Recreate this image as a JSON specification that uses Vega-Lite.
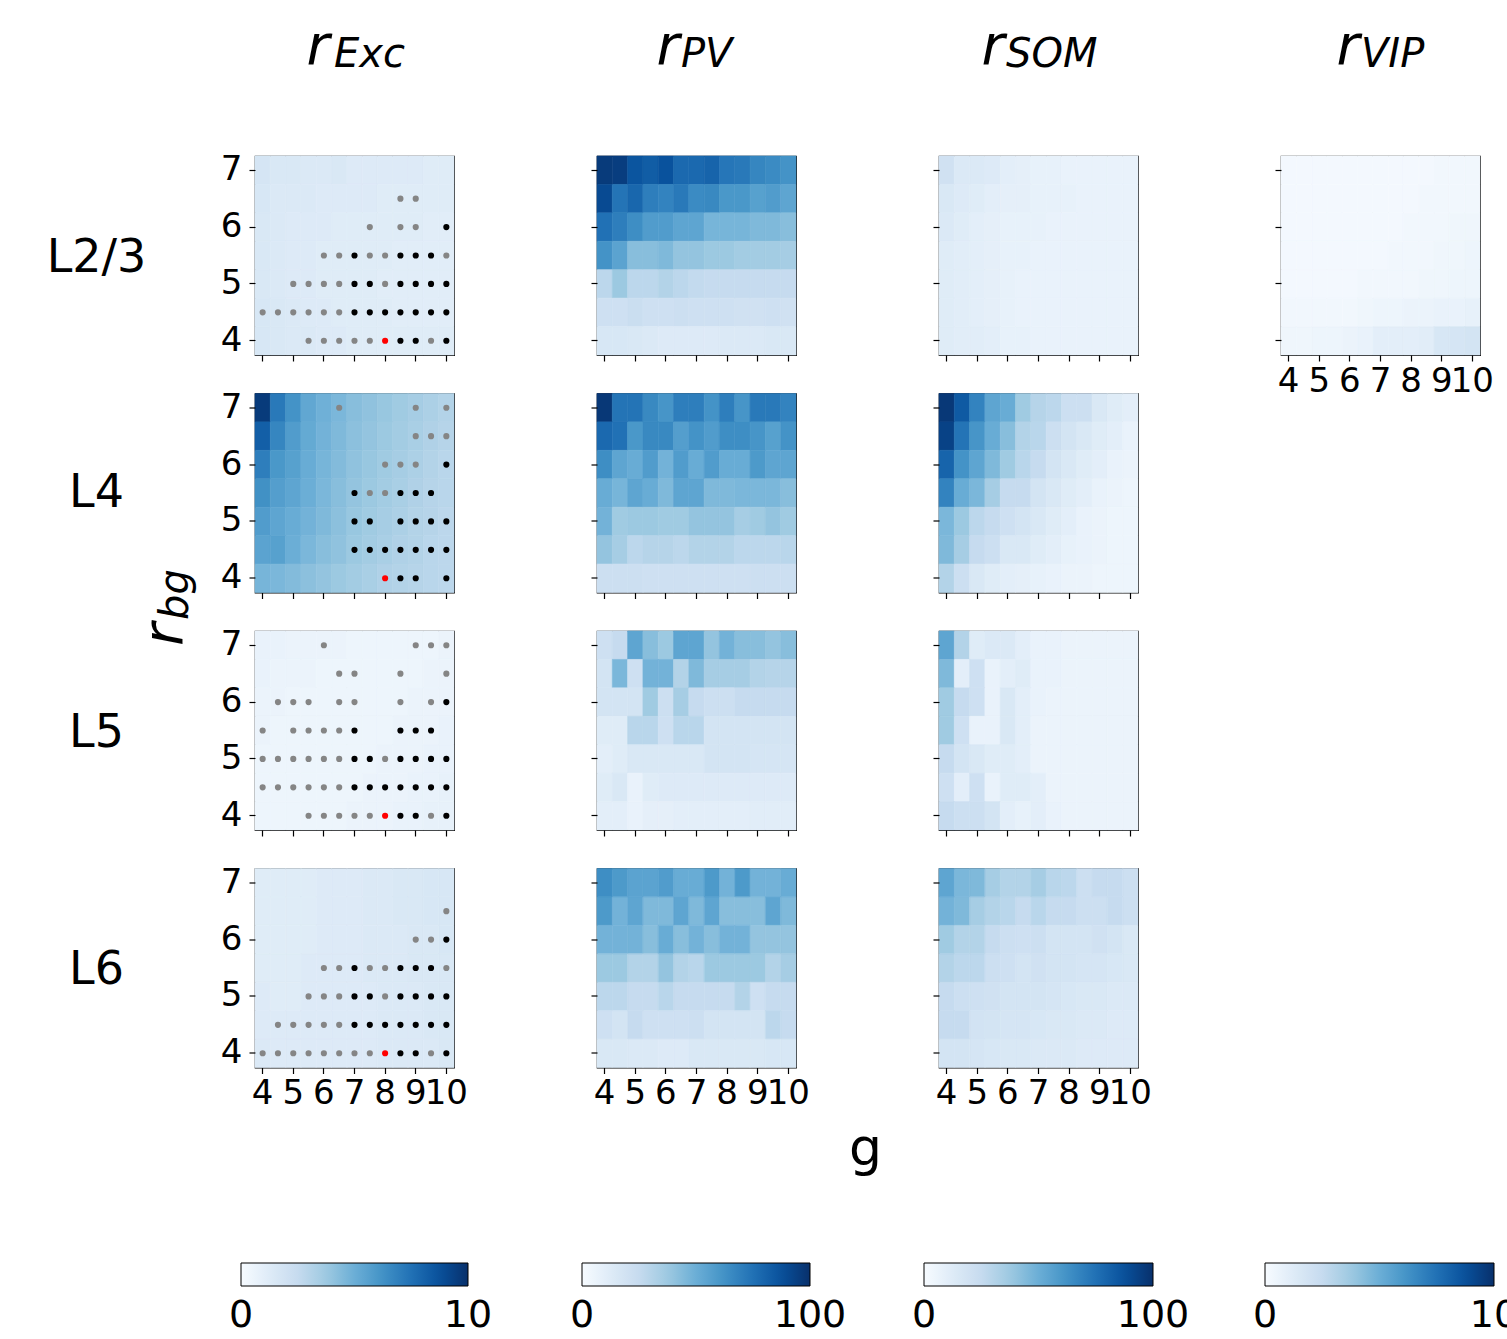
{
"$schema":"https://vega.github.io/schema/vega-lite/v6.json",
"background":"white",
"padding":{"left":45,"top":17,"right":0,"bottom":2},
"datasets":{
"exc_l23":[
{"g":4,"r":7,"v":1.7},{"g":4.5,"r":7,"v":1.5},{"g":5,"r":7,"v":1.5},{"g":5.5,"r":7,"v":1.4},{"g":6,"r":7,"v":1.4},{"g":6.5,"r":7,"v":1.5},{"g":7,"r":7,"v":1.3},{"g":7.5,"r":7,"v":1.3},{"g":8,"r":7,"v":1.3},{"g":8.5,"r":7,"v":1.3},{"g":9,"r":7,"v":1.3},{"g":9.5,"r":7,"v":1.2},{"g":10,"r":7,"v":1.2},
{"g":4,"r":6.5,"v":1.6},{"g":4.5,"r":6.5,"v":1.4},{"g":5,"r":6.5,"v":1.4},{"g":5.5,"r":6.5,"v":1.4},{"g":6,"r":6.5,"v":1.3},{"g":6.5,"r":6.5,"v":1.3},{"g":7,"r":6.5,"v":1.3},{"g":7.5,"r":6.5,"v":1.3},{"g":8,"r":6.5,"v":1.2},{"g":8.5,"r":6.5,"v":1.2},{"g":9,"r":6.5,"v":1.2},{"g":9.5,"r":6.5,"v":1.2},{"g":10,"r":6.5,"v":1.2},
{"g":4,"r":6,"v":1.5},{"g":4.5,"r":6,"v":1.4},{"g":5,"r":6,"v":1.3},{"g":5.5,"r":6,"v":1.3},{"g":6,"r":6,"v":1.3},{"g":6.5,"r":6,"v":1.2},{"g":7,"r":6,"v":1.2},{"g":7.5,"r":6,"v":1.2},{"g":8,"r":6,"v":1.2},{"g":8.5,"r":6,"v":1.2},{"g":9,"r":6,"v":1.2},{"g":9.5,"r":6,"v":1.1},{"g":10,"r":6,"v":1.1},
{"g":4,"r":5.5,"v":1.5},{"g":4.5,"r":5.5,"v":1.4},{"g":5,"r":5.5,"v":1.3},{"g":5.5,"r":5.5,"v":1.3},{"g":6,"r":5.5,"v":1.2},{"g":6.5,"r":5.5,"v":1.2},{"g":7,"r":5.5,"v":1.2},{"g":7.5,"r":5.5,"v":1.2},{"g":8,"r":5.5,"v":1.2},{"g":8.5,"r":5.5,"v":1.1},{"g":9,"r":5.5,"v":1.1},{"g":9.5,"r":5.5,"v":1.1},{"g":10,"r":5.5,"v":1.1},
{"g":4,"r":5,"v":1.5},{"g":4.5,"r":5,"v":1.4},{"g":5,"r":5,"v":1.3},{"g":5.5,"r":5,"v":1.3},{"g":6,"r":5,"v":1.2},{"g":6.5,"r":5,"v":1.2},{"g":7,"r":5,"v":1.2},{"g":7.5,"r":5,"v":1.2},{"g":8,"r":5,"v":1.1},{"g":8.5,"r":5,"v":1.1},{"g":9,"r":5,"v":1.1},{"g":9.5,"r":5,"v":1.1},{"g":10,"r":5,"v":1.1},
{"g":4,"r":4.5,"v":1.6},{"g":4.5,"r":4.5,"v":1.5},{"g":5,"r":4.5,"v":1.4},{"g":5.5,"r":4.5,"v":1.3},{"g":6,"r":4.5,"v":1.3},{"g":6.5,"r":4.5,"v":1.2},{"g":7,"r":4.5,"v":1.2},{"g":7.5,"r":4.5,"v":1.2},{"g":8,"r":4.5,"v":1.2},{"g":8.5,"r":4.5,"v":1.1},{"g":9,"r":4.5,"v":1.1},{"g":9.5,"r":4.5,"v":1.1},{"g":10,"r":4.5,"v":1.1},
{"g":4,"r":4,"v":1.6},{"g":4.5,"r":4,"v":1.5},{"g":5,"r":4,"v":1.4},{"g":5.5,"r":4,"v":1.4},{"g":6,"r":4,"v":1.3},{"g":6.5,"r":4,"v":1.3},{"g":7,"r":4,"v":1.2},{"g":7.5,"r":4,"v":1.2},{"g":8,"r":4,"v":1.2},{"g":8.5,"r":4,"v":1.2},{"g":9,"r":4,"v":1.2},{"g":9.5,"r":4,"v":1.2},{"g":10,"r":4,"v":1.2}
],
"exc_l4":[
{"g":4,"r":7,"v":9.6},{"g":4.5,"r":7,"v":7.2},{"g":5,"r":7,"v":6.2},{"g":5.5,"r":7,"v":5.3},{"g":6,"r":7,"v":4.9},{"g":6.5,"r":7,"v":4.6},{"g":7,"r":7,"v":4.3},{"g":7.5,"r":7,"v":4.1},{"g":8,"r":7,"v":3.9},{"g":8.5,"r":7,"v":3.7},{"g":9,"r":7,"v":3.5},{"g":9.5,"r":7,"v":3.3},{"g":10,"r":7,"v":3.1},
{"g":4,"r":6.5,"v":8.2},{"g":4.5,"r":6.5,"v":6.7},{"g":5,"r":6.5,"v":5.8},{"g":5.5,"r":6.5,"v":5.2},{"g":6,"r":6.5,"v":4.8},{"g":6.5,"r":6.5,"v":4.5},{"g":7,"r":6.5,"v":4.2},{"g":7.5,"r":6.5,"v":4.0},{"g":8,"r":6.5,"v":3.8},{"g":8.5,"r":6.5,"v":3.6},{"g":9,"r":6.5,"v":3.4},{"g":9.5,"r":6.5,"v":3.2},{"g":10,"r":6.5,"v":3.0},
{"g":4,"r":6,"v":7.0},{"g":4.5,"r":6,"v":6.0},{"g":5,"r":6,"v":5.6},{"g":5.5,"r":6,"v":5.1},{"g":6,"r":6,"v":4.7},{"g":6.5,"r":6,"v":4.4},{"g":7,"r":6,"v":4.1},{"g":7.5,"r":6,"v":3.9},{"g":8,"r":6,"v":3.7},{"g":8.5,"r":6,"v":3.5},{"g":9,"r":6,"v":3.3},{"g":9.5,"r":6,"v":3.1},{"g":10,"r":6,"v":2.9},
{"g":4,"r":5.5,"v":6.3},{"g":4.5,"r":5.5,"v":5.7},{"g":5,"r":5.5,"v":5.4},{"g":5.5,"r":5.5,"v":5.0},{"g":6,"r":5.5,"v":4.6},{"g":6.5,"r":5.5,"v":4.3},{"g":7,"r":5.5,"v":4.0},{"g":7.5,"r":5.5,"v":3.8},{"g":8,"r":5.5,"v":3.6},{"g":8.5,"r":5.5,"v":3.4},{"g":9,"r":5.5,"v":3.2},{"g":9.5,"r":5.5,"v":3.0},{"g":10,"r":5.5,"v":2.9},
{"g":4,"r":5,"v":5.8},{"g":4.5,"r":5,"v":5.4},{"g":5,"r":5,"v":5.1},{"g":5.5,"r":5,"v":4.8},{"g":6,"r":5,"v":4.5},{"g":6.5,"r":5,"v":4.2},{"g":7,"r":5,"v":3.9},{"g":7.5,"r":5,"v":3.7},{"g":8,"r":5,"v":3.5},{"g":8.5,"r":5,"v":3.3},{"g":9,"r":5,"v":3.1},{"g":9.5,"r":5,"v":3.0},{"g":10,"r":5,"v":2.8},
{"g":4,"r":4.5,"v":5.5},{"g":4.5,"r":4.5,"v":5.6},{"g":5,"r":4.5,"v":5.0},{"g":5.5,"r":4.5,"v":4.6},{"g":6,"r":4.5,"v":4.3},{"g":6.5,"r":4.5,"v":4.1},{"g":7,"r":4.5,"v":3.8},{"g":7.5,"r":4.5,"v":3.6},{"g":8,"r":4.5,"v":3.4},{"g":8.5,"r":4.5,"v":3.2},{"g":9,"r":4.5,"v":3.1},{"g":9.5,"r":4.5,"v":2.9},{"g":10,"r":4.5,"v":2.8},
{"g":4,"r":4,"v":4.7},{"g":4.5,"r":4,"v":4.6},{"g":5,"r":4,"v":4.4},{"g":5.5,"r":4,"v":4.2},{"g":6,"r":4,"v":4.0},{"g":6.5,"r":4,"v":3.8},{"g":7,"r":4,"v":3.6},{"g":7.5,"r":4,"v":3.4},{"g":8,"r":4,"v":3.2},{"g":8.5,"r":4,"v":3.1},{"g":9,"r":4,"v":3.0},{"g":9.5,"r":4,"v":2.9},{"g":10,"r":4,"v":2.8}
],
"exc_l5":[
{"g":4,"r":7,"v":0.7},{"g":4.5,"r":7,"v":0.7},{"g":5,"r":7,"v":0.6},{"g":5.5,"r":7,"v":0.6},{"g":6,"r":7,"v":0.6},{"g":6.5,"r":7,"v":0.6},{"g":7,"r":7,"v":0.5},{"g":7.5,"r":7,"v":0.5},{"g":8,"r":7,"v":0.5},{"g":8.5,"r":7,"v":0.5},{"g":9,"r":7,"v":0.5},{"g":9.5,"r":7,"v":0.5},{"g":10,"r":7,"v":0.6},
{"g":4,"r":6.5,"v":0.7},{"g":4.5,"r":6.5,"v":0.6},{"g":5,"r":6.5,"v":0.6},{"g":5.5,"r":6.5,"v":0.6},{"g":6,"r":6.5,"v":0.5},{"g":6.5,"r":6.5,"v":0.5},{"g":7,"r":6.5,"v":0.5},{"g":7.5,"r":6.5,"v":0.5},{"g":8,"r":6.5,"v":0.5},{"g":8.5,"r":6.5,"v":0.5},{"g":9,"r":6.5,"v":0.5},{"g":9.5,"r":6.5,"v":0.6},{"g":10,"r":6.5,"v":0.6},
{"g":4,"r":6,"v":0.6},{"g":4.5,"r":6,"v":0.6},{"g":5,"r":6,"v":0.5},{"g":5.5,"r":6,"v":0.5},{"g":6,"r":6,"v":0.5},{"g":6.5,"r":6,"v":0.5},{"g":7,"r":6,"v":0.5},{"g":7.5,"r":6,"v":0.5},{"g":8,"r":6,"v":0.5},{"g":8.5,"r":6,"v":0.5},{"g":9,"r":6,"v":0.6},{"g":9.5,"r":6,"v":0.6},{"g":10,"r":6,"v":0.6},
{"g":4,"r":5.5,"v":0.6},{"g":4.5,"r":5.5,"v":0.5},{"g":5,"r":5.5,"v":0.5},{"g":5.5,"r":5.5,"v":0.5},{"g":6,"r":5.5,"v":0.5},{"g":6.5,"r":5.5,"v":0.5},{"g":7,"r":5.5,"v":0.5},{"g":7.5,"r":5.5,"v":0.5},{"g":8,"r":5.5,"v":0.5},{"g":8.5,"r":5.5,"v":0.6},{"g":9,"r":5.5,"v":0.6},{"g":9.5,"r":5.5,"v":0.6},{"g":10,"r":5.5,"v":0.7},
{"g":4,"r":5,"v":0.5},{"g":4.5,"r":5,"v":0.5},{"g":5,"r":5,"v":0.5},{"g":5.5,"r":5,"v":0.5},{"g":6,"r":5,"v":0.5},{"g":6.5,"r":5,"v":0.5},{"g":7,"r":5,"v":0.5},{"g":7.5,"r":5,"v":0.5},{"g":8,"r":5,"v":0.6},{"g":8.5,"r":5,"v":0.6},{"g":9,"r":5,"v":0.6},{"g":9.5,"r":5,"v":0.7},{"g":10,"r":5,"v":0.7},
{"g":4,"r":4.5,"v":0.5},{"g":4.5,"r":4.5,"v":0.5},{"g":5,"r":4.5,"v":0.5},{"g":5.5,"r":4.5,"v":0.5},{"g":6,"r":4.5,"v":0.5},{"g":6.5,"r":4.5,"v":0.5},{"g":7,"r":4.5,"v":0.5},{"g":7.5,"r":4.5,"v":0.6},{"g":8,"r":4.5,"v":0.6},{"g":8.5,"r":4.5,"v":0.6},{"g":9,"r":4.5,"v":0.7},{"g":9.5,"r":4.5,"v":0.7},{"g":10,"r":4.5,"v":0.8},
{"g":4,"r":4,"v":0.5},{"g":4.5,"r":4,"v":0.5},{"g":5,"r":4,"v":0.5},{"g":5.5,"r":4,"v":0.5},{"g":6,"r":4,"v":0.5},{"g":6.5,"r":4,"v":0.5},{"g":7,"r":4,"v":0.6},{"g":7.5,"r":4,"v":0.6},{"g":8,"r":4,"v":0.6},{"g":8.5,"r":4,"v":0.7},{"g":9,"r":4,"v":0.7},{"g":9.5,"r":4,"v":0.8},{"g":10,"r":4,"v":0.8}
],
"exc_l6":[
{"g":4,"r":7,"v":1.2},{"g":4.5,"r":7,"v":1.2},{"g":5,"r":7,"v":1.2},{"g":5.5,"r":7,"v":1.2},{"g":6,"r":7,"v":1.3},{"g":6.5,"r":7,"v":1.3},{"g":7,"r":7,"v":1.3},{"g":7.5,"r":7,"v":1.4},{"g":8,"r":7,"v":1.4},{"g":8.5,"r":7,"v":1.5},{"g":9,"r":7,"v":1.5},{"g":9.5,"r":7,"v":1.6},{"g":10,"r":7,"v":1.6},
{"g":4,"r":6.5,"v":1.2},{"g":4.5,"r":6.5,"v":1.2},{"g":5,"r":6.5,"v":1.2},{"g":5.5,"r":6.5,"v":1.2},{"g":6,"r":6.5,"v":1.3},{"g":6.5,"r":6.5,"v":1.3},{"g":7,"r":6.5,"v":1.3},{"g":7.5,"r":6.5,"v":1.4},{"g":8,"r":6.5,"v":1.4},{"g":8.5,"r":6.5,"v":1.5},{"g":9,"r":6.5,"v":1.5},{"g":9.5,"r":6.5,"v":1.6},{"g":10,"r":6.5,"v":1.6},
{"g":4,"r":6,"v":1.2},{"g":4.5,"r":6,"v":1.2},{"g":5,"r":6,"v":1.2},{"g":5.5,"r":6,"v":1.2},{"g":6,"r":6,"v":1.3},{"g":6.5,"r":6,"v":1.3},{"g":7,"r":6,"v":1.3},{"g":7.5,"r":6,"v":1.4},{"g":8,"r":6,"v":1.4},{"g":8.5,"r":6,"v":1.4},{"g":9,"r":6,"v":1.5},{"g":9.5,"r":6,"v":1.5},{"g":10,"r":6,"v":1.6},
{"g":4,"r":5.5,"v":1.2},{"g":4.5,"r":5.5,"v":1.2},{"g":5,"r":5.5,"v":1.2},{"g":5.5,"r":5.5,"v":1.3},{"g":6,"r":5.5,"v":1.3},{"g":6.5,"r":5.5,"v":1.3},{"g":7,"r":5.5,"v":1.3},{"g":7.5,"r":5.5,"v":1.4},{"g":8,"r":5.5,"v":1.4},{"g":8.5,"r":5.5,"v":1.4},{"g":9,"r":5.5,"v":1.5},{"g":9.5,"r":5.5,"v":1.5},{"g":10,"r":5.5,"v":1.5},
{"g":4,"r":5,"v":1.3},{"g":4.5,"r":5,"v":1.2},{"g":5,"r":5,"v":1.2},{"g":5.5,"r":5,"v":1.3},{"g":6,"r":5,"v":1.3},{"g":6.5,"r":5,"v":1.3},{"g":7,"r":5,"v":1.3},{"g":7.5,"r":5,"v":1.3},{"g":8,"r":5,"v":1.4},{"g":8.5,"r":5,"v":1.4},{"g":9,"r":5,"v":1.4},{"g":9.5,"r":5,"v":1.5},{"g":10,"r":5,"v":1.5},
{"g":4,"r":4.5,"v":1.3},{"g":4.5,"r":4.5,"v":1.3},{"g":5,"r":4.5,"v":1.3},{"g":5.5,"r":4.5,"v":1.3},{"g":6,"r":4.5,"v":1.3},{"g":6.5,"r":4.5,"v":1.3},{"g":7,"r":4.5,"v":1.3},{"g":7.5,"r":4.5,"v":1.3},{"g":8,"r":4.5,"v":1.4},{"g":8.5,"r":4.5,"v":1.4},{"g":9,"r":4.5,"v":1.4},{"g":9.5,"r":4.5,"v":1.5},{"g":10,"r":4.5,"v":1.5},
{"g":4,"r":4,"v":1.4},{"g":4.5,"r":4,"v":1.3},{"g":5,"r":4,"v":1.3},{"g":5.5,"r":4,"v":1.3},{"g":6,"r":4,"v":1.3},{"g":6.5,"r":4,"v":1.3},{"g":7,"r":4,"v":1.3},{"g":7.5,"r":4,"v":1.3},{"g":8,"r":4,"v":1.4},{"g":8.5,"r":4,"v":1.4},{"g":9,"r":4,"v":1.4},{"g":9.5,"r":4,"v":1.4},{"g":10,"r":4,"v":1.5}
],
"pv_l23":[
{"g":4,"r":7,"v":96},{"g":4.5,"r":7,"v":95},{"g":5,"r":7,"v":86},{"g":5.5,"r":7,"v":83},{"g":6,"r":7,"v":87},{"g":6.5,"r":7,"v":78},{"g":7,"r":7,"v":78},{"g":7.5,"r":7,"v":80},{"g":8,"r":7,"v":73},{"g":8.5,"r":7,"v":72},{"g":9,"r":7,"v":67},{"g":9.5,"r":7,"v":65},{"g":10,"r":7,"v":62},
{"g":4,"r":6.5,"v":90},{"g":4.5,"r":6.5,"v":74},{"g":5,"r":6.5,"v":79},{"g":5.5,"r":6.5,"v":70},{"g":6,"r":6.5,"v":68},{"g":6.5,"r":6.5,"v":72},{"g":7,"r":6.5,"v":65},{"g":7.5,"r":6.5,"v":66},{"g":8,"r":6.5,"v":60},{"g":8.5,"r":6.5,"v":60},{"g":9,"r":6.5,"v":56},{"g":9.5,"r":6.5,"v":58},{"g":10,"r":6.5,"v":54},
{"g":4,"r":6,"v":75},{"g":4.5,"r":6,"v":70},{"g":5,"r":6,"v":64},{"g":5.5,"r":6,"v":58},{"g":6,"r":6,"v":58},{"g":6.5,"r":6,"v":54},{"g":7,"r":6,"v":54},{"g":7.5,"r":6,"v":47},{"g":8,"r":6,"v":47},{"g":8.5,"r":6,"v":47},{"g":9,"r":6,"v":45},{"g":9.5,"r":6,"v":45},{"g":10,"r":6,"v":43},
{"g":4,"r":5.5,"v":62},{"g":4.5,"r":5.5,"v":55},{"g":5,"r":5.5,"v":43},{"g":5.5,"r":5.5,"v":43},{"g":6,"r":5.5,"v":45},{"g":6.5,"r":5.5,"v":40},{"g":7,"r":5.5,"v":40},{"g":7.5,"r":5.5,"v":38},{"g":8,"r":5.5,"v":38},{"g":8.5,"r":5.5,"v":36},{"g":9,"r":5.5,"v":36},{"g":9.5,"r":5.5,"v":36},{"g":10,"r":5.5,"v":35},
{"g":4,"r":5,"v":28},{"g":4.5,"r":5,"v":38},{"g":5,"r":5,"v":28},{"g":5.5,"r":5,"v":28},{"g":6,"r":5,"v":31},{"g":6.5,"r":5,"v":28},{"g":7,"r":5,"v":26},{"g":7.5,"r":5,"v":25},{"g":8,"r":5,"v":25},{"g":8.5,"r":5,"v":25},{"g":9,"r":5,"v":25},{"g":9.5,"r":5,"v":25},{"g":10,"r":5,"v":25},
{"g":4,"r":4.5,"v":21},{"g":4.5,"r":4.5,"v":21},{"g":5,"r":4.5,"v":23},{"g":5.5,"r":4.5,"v":21},{"g":6,"r":4.5,"v":21},{"g":6.5,"r":4.5,"v":22},{"g":7,"r":4.5,"v":21},{"g":7.5,"r":4.5,"v":21},{"g":8,"r":4.5,"v":21},{"g":8.5,"r":4.5,"v":20},{"g":9,"r":4.5,"v":20},{"g":9.5,"r":4.5,"v":21},{"g":10,"r":4.5,"v":20},
{"g":4,"r":4,"v":16},{"g":4.5,"r":4,"v":16},{"g":5,"r":4,"v":15},{"g":5.5,"r":4,"v":14},{"g":6,"r":4,"v":13},{"g":6.5,"r":4,"v":13},{"g":7,"r":4,"v":13},{"g":7.5,"r":4,"v":13},{"g":8,"r":4,"v":14},{"g":8.5,"r":4,"v":14},{"g":9,"r":4,"v":14},{"g":9.5,"r":4,"v":15},{"g":10,"r":4,"v":15}
],
"pv_l4":[
{"g":4,"r":7,"v":97},{"g":4.5,"r":7,"v":74},{"g":5,"r":7,"v":74},{"g":5.5,"r":7,"v":66},{"g":6,"r":7,"v":61},{"g":6.5,"r":7,"v":70},{"g":7,"r":7,"v":70},{"g":7.5,"r":7,"v":62},{"g":8,"r":7,"v":70},{"g":8.5,"r":7,"v":61},{"g":9,"r":7,"v":72},{"g":9.5,"r":7,"v":72},{"g":10,"r":7,"v":68},
{"g":4,"r":6.5,"v":78},{"g":4.5,"r":6.5,"v":75},{"g":5,"r":6.5,"v":60},{"g":5.5,"r":6.5,"v":66},{"g":6,"r":6.5,"v":66},{"g":6.5,"r":6.5,"v":57},{"g":7,"r":6.5,"v":62},{"g":7.5,"r":6.5,"v":58},{"g":8,"r":6.5,"v":64},{"g":8.5,"r":6.5,"v":64},{"g":9,"r":6.5,"v":61},{"g":9.5,"r":6.5,"v":56},{"g":10,"r":6.5,"v":62},
{"g":4,"r":6,"v":64},{"g":4.5,"r":6,"v":54},{"g":5,"r":6,"v":51},{"g":5.5,"r":6,"v":58},{"g":6,"r":6,"v":48},{"g":6.5,"r":6,"v":58},{"g":7,"r":6,"v":51},{"g":7.5,"r":6,"v":58},{"g":8,"r":6,"v":51},{"g":8.5,"r":6,"v":51},{"g":9,"r":6,"v":59},{"g":9.5,"r":6,"v":54},{"g":10,"r":6,"v":54},
{"g":4,"r":5.5,"v":51},{"g":4.5,"r":5.5,"v":47},{"g":5,"r":5.5,"v":54},{"g":5.5,"r":5.5,"v":51},{"g":6,"r":5.5,"v":45},{"g":6.5,"r":5.5,"v":54},{"g":7,"r":5.5,"v":54},{"g":7.5,"r":5.5,"v":45},{"g":8,"r":5.5,"v":45},{"g":8.5,"r":5.5,"v":46},{"g":9,"r":5.5,"v":46},{"g":9.5,"r":5.5,"v":46},{"g":10,"r":5.5,"v":43},
{"g":4,"r":5,"v":48},{"g":4.5,"r":5,"v":37},{"g":5,"r":5,"v":38},{"g":5.5,"r":5,"v":38},{"g":6,"r":5,"v":37},{"g":6.5,"r":5,"v":37},{"g":7,"r":5,"v":40},{"g":7.5,"r":5,"v":40},{"g":8,"r":5,"v":40},{"g":8.5,"r":5,"v":35},{"g":9,"r":5,"v":37},{"g":9.5,"r":5,"v":40},{"g":10,"r":5,"v":37},
{"g":4,"r":4.5,"v":40},{"g":4.5,"r":4.5,"v":35},{"g":5,"r":4.5,"v":28},{"g":5.5,"r":4.5,"v":30},{"g":6,"r":4.5,"v":30},{"g":6.5,"r":4.5,"v":28},{"g":7,"r":4.5,"v":31},{"g":7.5,"r":4.5,"v":31},{"g":8,"r":4.5,"v":31},{"g":8.5,"r":4.5,"v":28},{"g":9,"r":4.5,"v":28},{"g":9.5,"r":4.5,"v":28},{"g":10,"r":4.5,"v":29},
{"g":4,"r":4,"v":22},{"g":4.5,"r":4,"v":22},{"g":5,"r":4,"v":22},{"g":5.5,"r":4,"v":21},{"g":6,"r":4,"v":21},{"g":6.5,"r":4,"v":21},{"g":7,"r":4,"v":21},{"g":7.5,"r":4,"v":21},{"g":8,"r":4,"v":21},{"g":8.5,"r":4,"v":21},{"g":9,"r":4,"v":22},{"g":9.5,"r":4,"v":22},{"g":10,"r":4,"v":22}
],
"pv_l5":[
{"g":4,"r":7,"v":21},{"g":4.5,"r":7,"v":25},{"g":5,"r":7,"v":54},{"g":5.5,"r":7,"v":43},{"g":6,"r":7,"v":38},{"g":6.5,"r":7,"v":54},{"g":7,"r":7,"v":54},{"g":7.5,"r":7,"v":40},{"g":8,"r":7,"v":48},{"g":8.5,"r":7,"v":43},{"g":9,"r":7,"v":43},{"g":9.5,"r":7,"v":40},{"g":10,"r":7,"v":43},
{"g":4,"r":6.5,"v":18},{"g":4.5,"r":6.5,"v":46},{"g":5,"r":6.5,"v":21},{"g":5.5,"r":6.5,"v":48},{"g":6,"r":6.5,"v":48},{"g":6.5,"r":6.5,"v":31},{"g":7,"r":6.5,"v":45},{"g":7.5,"r":6.5,"v":35},{"g":8,"r":6.5,"v":35},{"g":8.5,"r":6.5,"v":35},{"g":9,"r":6.5,"v":31},{"g":9.5,"r":6.5,"v":30},{"g":10,"r":6.5,"v":30},
{"g":4,"r":6,"v":18},{"g":4.5,"r":6,"v":18},{"g":5,"r":6,"v":18},{"g":5.5,"r":6,"v":37},{"g":6,"r":6,"v":22},{"g":6.5,"r":6,"v":35},{"g":7,"r":6,"v":25},{"g":7.5,"r":6,"v":22},{"g":8,"r":6,"v":22},{"g":8.5,"r":6,"v":25},{"g":9,"r":6,"v":25},{"g":9.5,"r":6,"v":25},{"g":10,"r":6,"v":25},
{"g":4,"r":5.5,"v":12},{"g":4.5,"r":5.5,"v":12},{"g":5,"r":5.5,"v":29},{"g":5.5,"r":5.5,"v":29},{"g":6,"r":5.5,"v":21},{"g":6.5,"r":5.5,"v":29},{"g":7,"r":5.5,"v":29},{"g":7.5,"r":5.5,"v":18},{"g":8,"r":5.5,"v":18},{"g":8.5,"r":5.5,"v":18},{"g":9,"r":5.5,"v":18},{"g":9.5,"r":5.5,"v":18},{"g":10,"r":5.5,"v":18},
{"g":4,"r":5,"v":10},{"g":4.5,"r":5,"v":12},{"g":5,"r":5,"v":15},{"g":5.5,"r":5,"v":15},{"g":6,"r":5,"v":15},{"g":6.5,"r":5,"v":15},{"g":7,"r":5,"v":15},{"g":7.5,"r":5,"v":18},{"g":8,"r":5,"v":18},{"g":8.5,"r":5,"v":18},{"g":9,"r":5,"v":17},{"g":9.5,"r":5,"v":17},{"g":10,"r":5,"v":17},
{"g":4,"r":4.5,"v":12},{"g":4.5,"r":4.5,"v":15},{"g":5,"r":4.5,"v":7},{"g":5.5,"r":4.5,"v":12},{"g":6,"r":4.5,"v":13},{"g":6.5,"r":4.5,"v":13},{"g":7,"r":4.5,"v":13},{"g":7.5,"r":4.5,"v":13},{"g":8,"r":4.5,"v":13},{"g":8.5,"r":4.5,"v":13},{"g":9,"r":4.5,"v":13},{"g":9.5,"r":4.5,"v":13},{"g":10,"r":4.5,"v":13},
{"g":4,"r":4,"v":10},{"g":4.5,"r":4,"v":10},{"g":5,"r":4,"v":7},{"g":5.5,"r":4,"v":9},{"g":6,"r":4,"v":9},{"g":6.5,"r":4,"v":10},{"g":7,"r":4,"v":10},{"g":7.5,"r":4,"v":10},{"g":8,"r":4,"v":10},{"g":8.5,"r":4,"v":10},{"g":9,"r":4,"v":11},{"g":9.5,"r":4,"v":11},{"g":10,"r":4,"v":11}
],
"pv_l6":[
{"g":4,"r":7,"v":64},{"g":4.5,"r":7,"v":59},{"g":5,"r":7,"v":55},{"g":5.5,"r":7,"v":55},{"g":6,"r":7,"v":58},{"g":6.5,"r":7,"v":51},{"g":7,"r":7,"v":51},{"g":7.5,"r":7,"v":59},{"g":8,"r":7,"v":48},{"g":8.5,"r":7,"v":59},{"g":9,"r":7,"v":48},{"g":9.5,"r":7,"v":48},{"g":10,"r":7,"v":51},
{"g":4,"r":6.5,"v":59},{"g":4.5,"r":6.5,"v":48},{"g":5,"r":6.5,"v":54},{"g":5.5,"r":6.5,"v":45},{"g":6,"r":6.5,"v":45},{"g":6.5,"r":6.5,"v":54},{"g":7,"r":6.5,"v":45},{"g":7.5,"r":6.5,"v":54},{"g":8,"r":6.5,"v":43},{"g":8.5,"r":6.5,"v":43},{"g":9,"r":6.5,"v":43},{"g":9.5,"r":6.5,"v":54},{"g":10,"r":6.5,"v":45},
{"g":4,"r":6,"v":48},{"g":4.5,"r":6,"v":48},{"g":5,"r":6,"v":48},{"g":5.5,"r":6,"v":43},{"g":6,"r":6,"v":51},{"g":6.5,"r":6,"v":43},{"g":7,"r":6,"v":48},{"g":7.5,"r":6,"v":43},{"g":8,"r":6,"v":48},{"g":8.5,"r":6,"v":48},{"g":9,"r":6,"v":40},{"g":9.5,"r":6,"v":40},{"g":10,"r":6,"v":40},
{"g":4,"r":5.5,"v":38},{"g":4.5,"r":5.5,"v":38},{"g":5,"r":5.5,"v":31},{"g":5.5,"r":5.5,"v":31},{"g":6,"r":5.5,"v":40},{"g":6.5,"r":5.5,"v":31},{"g":7,"r":5.5,"v":29},{"g":7.5,"r":5.5,"v":38},{"g":8,"r":5.5,"v":38},{"g":8.5,"r":5.5,"v":38},{"g":9,"r":5.5,"v":38},{"g":9.5,"r":5.5,"v":31},{"g":10,"r":5.5,"v":35},
{"g":4,"r":5,"v":28},{"g":4.5,"r":5,"v":28},{"g":5,"r":5,"v":25},{"g":5.5,"r":5,"v":25},{"g":6,"r":5,"v":29},{"g":6.5,"r":5,"v":25},{"g":7,"r":5,"v":25},{"g":7.5,"r":5,"v":25},{"g":8,"r":5,"v":25},{"g":8.5,"r":5,"v":31},{"g":9,"r":5,"v":21},{"g":9.5,"r":5,"v":25},{"g":10,"r":5,"v":25},
{"g":4,"r":4.5,"v":21},{"g":4.5,"r":4.5,"v":18},{"g":5,"r":4.5,"v":25},{"g":5.5,"r":4.5,"v":21},{"g":6,"r":4.5,"v":21},{"g":6.5,"r":4.5,"v":21},{"g":7,"r":4.5,"v":22},{"g":7.5,"r":4.5,"v":18},{"g":8,"r":4.5,"v":18},{"g":8.5,"r":4.5,"v":18},{"g":9,"r":4.5,"v":18},{"g":9.5,"r":4.5,"v":28},{"g":10,"r":4.5,"v":25},
{"g":4,"r":4,"v":15},{"g":4.5,"r":4,"v":15},{"g":5,"r":4,"v":14},{"g":5.5,"r":4,"v":14},{"g":6,"r":4,"v":13},{"g":6.5,"r":4,"v":13},{"g":7,"r":4,"v":15},{"g":7.5,"r":4,"v":15},{"g":8,"r":4,"v":15},{"g":8.5,"r":4,"v":15},{"g":9,"r":4,"v":15},{"g":9.5,"r":4,"v":16},{"g":10,"r":4,"v":16}
],
"som_l23":[
{"g":4,"r":7,"v":20},{"g":4.5,"r":7,"v":14},{"g":5,"r":7,"v":14},{"g":5.5,"r":7,"v":13},{"g":6,"r":7,"v":10},{"g":6.5,"r":7,"v":9},{"g":7,"r":7,"v":8},{"g":7.5,"r":7,"v":8},{"g":8,"r":7,"v":7},{"g":8.5,"r":7,"v":7},{"g":9,"r":7,"v":7},{"g":9.5,"r":7,"v":7},{"g":10,"r":7,"v":7},
{"g":4,"r":6.5,"v":15},{"g":4.5,"r":6.5,"v":13},{"g":5,"r":6.5,"v":12},{"g":5.5,"r":6.5,"v":10},{"g":6,"r":6.5,"v":9},{"g":6.5,"r":6.5,"v":9},{"g":7,"r":6.5,"v":8},{"g":7.5,"r":6.5,"v":8},{"g":8,"r":6.5,"v":8},{"g":8.5,"r":6.5,"v":7},{"g":9,"r":6.5,"v":7},{"g":9.5,"r":6.5,"v":7},{"g":10,"r":6.5,"v":7},
{"g":4,"r":6,"v":14},{"g":4.5,"r":6,"v":12},{"g":5,"r":6,"v":10},{"g":5.5,"r":6,"v":9},{"g":6,"r":6,"v":8},{"g":6.5,"r":6,"v":8},{"g":7,"r":6,"v":8},{"g":7.5,"r":6,"v":7},{"g":8,"r":6,"v":7},{"g":8.5,"r":6,"v":7},{"g":9,"r":6,"v":7},{"g":9.5,"r":6,"v":7},{"g":10,"r":6,"v":7},
{"g":4,"r":5.5,"v":12},{"g":4.5,"r":5.5,"v":11},{"g":5,"r":5.5,"v":10},{"g":5.5,"r":5.5,"v":9},{"g":6,"r":5.5,"v":8},{"g":6.5,"r":5.5,"v":8},{"g":7,"r":5.5,"v":7},{"g":7.5,"r":5.5,"v":7},{"g":8,"r":5.5,"v":7},{"g":8.5,"r":5.5,"v":7},{"g":9,"r":5.5,"v":7},{"g":9.5,"r":5.5,"v":7},{"g":10,"r":5.5,"v":7},
{"g":4,"r":5,"v":12},{"g":4.5,"r":5,"v":11},{"g":5,"r":5,"v":10},{"g":5.5,"r":5,"v":9},{"g":6,"r":5,"v":8},{"g":6.5,"r":5,"v":7},{"g":7,"r":5,"v":7},{"g":7.5,"r":5,"v":7},{"g":8,"r":5,"v":7},{"g":8.5,"r":5,"v":7},{"g":9,"r":5,"v":7},{"g":9.5,"r":5,"v":7},{"g":10,"r":5,"v":7},
{"g":4,"r":4.5,"v":12},{"g":4.5,"r":4.5,"v":11},{"g":5,"r":4.5,"v":10},{"g":5.5,"r":4.5,"v":9},{"g":6,"r":4.5,"v":8},{"g":6.5,"r":4.5,"v":7},{"g":7,"r":4.5,"v":7},{"g":7.5,"r":4.5,"v":7},{"g":8,"r":4.5,"v":7},{"g":8.5,"r":4.5,"v":7},{"g":9,"r":4.5,"v":7},{"g":9.5,"r":4.5,"v":7},{"g":10,"r":4.5,"v":7},
{"g":4,"r":4,"v":12},{"g":4.5,"r":4,"v":11},{"g":5,"r":4,"v":11},{"g":5.5,"r":4,"v":10},{"g":6,"r":4,"v":8},{"g":6.5,"r":4,"v":8},{"g":7,"r":4,"v":7},{"g":7.5,"r":4,"v":7},{"g":8,"r":4,"v":7},{"g":8.5,"r":4,"v":7},{"g":9,"r":4,"v":7},{"g":9.5,"r":4,"v":7},{"g":10,"r":4,"v":7}
],
"som_l4":[
{"g":4,"r":7,"v":97},{"g":4.5,"r":7,"v":84},{"g":5,"r":7,"v":68},{"g":5.5,"r":7,"v":54},{"g":6,"r":7,"v":51},{"g":6.5,"r":7,"v":37},{"g":7,"r":7,"v":30},{"g":7.5,"r":7,"v":28},{"g":8,"r":7,"v":22},{"g":8.5,"r":7,"v":22},{"g":9,"r":7,"v":15},{"g":9.5,"r":7,"v":12},{"g":10,"r":7,"v":10},
{"g":4,"r":6.5,"v":93},{"g":4.5,"r":6.5,"v":74},{"g":5,"r":6.5,"v":61},{"g":5.5,"r":6.5,"v":51},{"g":6,"r":6.5,"v":43},{"g":6.5,"r":6.5,"v":31},{"g":7,"r":6.5,"v":29},{"g":7.5,"r":6.5,"v":22},{"g":8,"r":6.5,"v":18},{"g":8.5,"r":6.5,"v":15},{"g":9,"r":6.5,"v":12},{"g":9.5,"r":6.5,"v":10},{"g":10,"r":6.5,"v":7},
{"g":4,"r":6,"v":80},{"g":4.5,"r":6,"v":62},{"g":5,"r":6,"v":54},{"g":5.5,"r":6,"v":45},{"g":6,"r":6,"v":37},{"g":6.5,"r":6,"v":29},{"g":7,"r":6,"v":25},{"g":7.5,"r":6,"v":18},{"g":8,"r":6,"v":15},{"g":8.5,"r":6,"v":12},{"g":9,"r":6,"v":10},{"g":9.5,"r":6,"v":7},{"g":10,"r":6,"v":6},
{"g":4,"r":5.5,"v":68},{"g":4.5,"r":5.5,"v":51},{"g":5,"r":5.5,"v":46},{"g":5.5,"r":5.5,"v":35},{"g":6,"r":5.5,"v":25},{"g":6.5,"r":5.5,"v":25},{"g":7,"r":5.5,"v":18},{"g":7.5,"r":5.5,"v":15},{"g":8,"r":5.5,"v":12},{"g":8.5,"r":5.5,"v":10},{"g":9,"r":5.5,"v":7},{"g":9.5,"r":5.5,"v":6},{"g":10,"r":5.5,"v":5},
{"g":4,"r":5,"v":46},{"g":4.5,"r":5,"v":38},{"g":5,"r":5,"v":28},{"g":5.5,"r":5,"v":25},{"g":6,"r":5,"v":21},{"g":6.5,"r":5,"v":18},{"g":7,"r":5,"v":15},{"g":7.5,"r":5,"v":12},{"g":8,"r":5,"v":10},{"g":8.5,"r":5,"v":7},{"g":9,"r":5,"v":6},{"g":9.5,"r":5,"v":5},{"g":10,"r":5,"v":5},
{"g":4,"r":4.5,"v":45},{"g":4.5,"r":4.5,"v":35},{"g":5,"r":4.5,"v":25},{"g":5.5,"r":4.5,"v":22},{"g":6,"r":4.5,"v":15},{"g":6.5,"r":4.5,"v":15},{"g":7,"r":4.5,"v":12},{"g":7.5,"r":4.5,"v":10},{"g":8,"r":4.5,"v":8},{"g":8.5,"r":4.5,"v":7},{"g":9,"r":4.5,"v":6},{"g":9.5,"r":4.5,"v":5},{"g":10,"r":4.5,"v":5},
{"g":4,"r":4,"v":31},{"g":4.5,"r":4,"v":22},{"g":5,"r":4,"v":15},{"g":5.5,"r":4,"v":12},{"g":6,"r":4,"v":10},{"g":6.5,"r":4,"v":9},{"g":7,"r":4,"v":8},{"g":7.5,"r":4,"v":7},{"g":8,"r":4,"v":6},{"g":8.5,"r":4,"v":6},{"g":9,"r":4,"v":5},{"g":9.5,"r":4,"v":5},{"g":10,"r":4,"v":5}
],
"som_l5":[
{"g":4,"r":7,"v":54},{"g":4.5,"r":7,"v":31},{"g":5,"r":7,"v":12},{"g":5.5,"r":7,"v":14},{"g":6,"r":7,"v":14},{"g":6.5,"r":7,"v":10},{"g":7,"r":7,"v":7},{"g":7.5,"r":7,"v":7},{"g":8,"r":7,"v":6},{"g":8.5,"r":7,"v":6},{"g":9,"r":7,"v":6},{"g":9.5,"r":7,"v":6},{"g":10,"r":7,"v":6},
{"g":4,"r":6.5,"v":45},{"g":4.5,"r":6.5,"v":10},{"g":5,"r":6.5,"v":21},{"g":5.5,"r":6.5,"v":7},{"g":6,"r":6.5,"v":10},{"g":6.5,"r":6.5,"v":12},{"g":7,"r":6.5,"v":7},{"g":7.5,"r":6.5,"v":7},{"g":8,"r":6.5,"v":6},{"g":8.5,"r":6.5,"v":6},{"g":9,"r":6.5,"v":6},{"g":9.5,"r":6.5,"v":6},{"g":10,"r":6.5,"v":6},
{"g":4,"r":6,"v":37},{"g":4.5,"r":6,"v":25},{"g":5,"r":6,"v":21},{"g":5.5,"r":6,"v":7},{"g":6,"r":6,"v":15},{"g":6.5,"r":6,"v":10},{"g":7,"r":6,"v":7},{"g":7.5,"r":6,"v":6},{"g":8,"r":6,"v":6},{"g":8.5,"r":6,"v":6},{"g":9,"r":6,"v":6},{"g":9.5,"r":6,"v":6},{"g":10,"r":6,"v":6},
{"g":4,"r":5.5,"v":37},{"g":4.5,"r":5.5,"v":21},{"g":5,"r":5.5,"v":7},{"g":5.5,"r":5.5,"v":7},{"g":6,"r":5.5,"v":15},{"g":6.5,"r":5.5,"v":10},{"g":7,"r":5.5,"v":6},{"g":7.5,"r":5.5,"v":6},{"g":8,"r":5.5,"v":6},{"g":8.5,"r":5.5,"v":6},{"g":9,"r":5.5,"v":6},{"g":9.5,"r":5.5,"v":6},{"g":10,"r":5.5,"v":6},
{"g":4,"r":5,"v":25},{"g":4.5,"r":5,"v":18},{"g":5,"r":5,"v":15},{"g":5.5,"r":5,"v":12},{"g":6,"r":5,"v":12},{"g":6.5,"r":5,"v":10},{"g":7,"r":5,"v":6},{"g":7.5,"r":5,"v":6},{"g":8,"r":5,"v":6},{"g":8.5,"r":5,"v":6},{"g":9,"r":5,"v":6},{"g":9.5,"r":5,"v":6},{"g":10,"r":5,"v":6},
{"g":4,"r":4.5,"v":21},{"g":4.5,"r":4.5,"v":10},{"g":5,"r":4.5,"v":21},{"g":5.5,"r":4.5,"v":7},{"g":6,"r":4.5,"v":12},{"g":6.5,"r":4.5,"v":12},{"g":7,"r":4.5,"v":10},{"g":7.5,"r":4.5,"v":6},{"g":8,"r":4.5,"v":6},{"g":8.5,"r":4.5,"v":6},{"g":9,"r":4.5,"v":6},{"g":9.5,"r":4.5,"v":6},{"g":10,"r":4.5,"v":6},
{"g":4,"r":4,"v":25},{"g":4.5,"r":4,"v":22},{"g":5,"r":4,"v":22},{"g":5.5,"r":4,"v":18},{"g":6,"r":4,"v":10},{"g":6.5,"r":4,"v":8},{"g":7,"r":4,"v":10},{"g":7.5,"r":4,"v":7},{"g":8,"r":4,"v":6},{"g":8.5,"r":4,"v":6},{"g":9,"r":4,"v":6},{"g":9.5,"r":4,"v":6},{"g":10,"r":4,"v":6}
],
"som_l6":[
{"g":4,"r":7,"v":54},{"g":4.5,"r":7,"v":46},{"g":5,"r":7,"v":45},{"g":5.5,"r":7,"v":35},{"g":6,"r":7,"v":31},{"g":6.5,"r":7,"v":31},{"g":7,"r":7,"v":35},{"g":7.5,"r":7,"v":29},{"g":8,"r":7,"v":28},{"g":8.5,"r":7,"v":22},{"g":9,"r":7,"v":25},{"g":9.5,"r":7,"v":25},{"g":10,"r":7,"v":22},
{"g":4,"r":6.5,"v":48},{"g":4.5,"r":6.5,"v":45},{"g":5,"r":6.5,"v":35},{"g":5.5,"r":6.5,"v":31},{"g":6,"r":6.5,"v":29},{"g":6.5,"r":6.5,"v":25},{"g":7,"r":6.5,"v":29},{"g":7.5,"r":6.5,"v":25},{"g":8,"r":6.5,"v":25},{"g":8.5,"r":6.5,"v":22},{"g":9,"r":6.5,"v":22},{"g":9.5,"r":6.5,"v":25},{"g":10,"r":6.5,"v":22},
{"g":4,"r":6,"v":37},{"g":4.5,"r":6,"v":31},{"g":5,"r":6,"v":31},{"g":5.5,"r":6,"v":25},{"g":6,"r":6,"v":22},{"g":6.5,"r":6,"v":21},{"g":7,"r":6,"v":22},{"g":7.5,"r":6,"v":18},{"g":8,"r":6,"v":18},{"g":8.5,"r":6,"v":18},{"g":9,"r":6,"v":20},{"g":9.5,"r":6,"v":18},{"g":10,"r":6,"v":15},
{"g":4,"r":5.5,"v":31},{"g":4.5,"r":5.5,"v":28},{"g":5,"r":5.5,"v":28},{"g":5.5,"r":5.5,"v":22},{"g":6,"r":5.5,"v":21},{"g":6.5,"r":5.5,"v":18},{"g":7,"r":5.5,"v":20},{"g":7.5,"r":5.5,"v":18},{"g":8,"r":5.5,"v":18},{"g":8.5,"r":5.5,"v":17},{"g":9,"r":5.5,"v":17},{"g":9.5,"r":5.5,"v":16},{"g":10,"r":5.5,"v":15},
{"g":4,"r":5,"v":25},{"g":4.5,"r":5,"v":22},{"g":5,"r":5,"v":21},{"g":5.5,"r":5,"v":20},{"g":6,"r":5,"v":18},{"g":6.5,"r":5,"v":18},{"g":7,"r":5,"v":18},{"g":7.5,"r":5,"v":17},{"g":8,"r":5,"v":16},{"g":8.5,"r":5,"v":15},{"g":9,"r":5,"v":15},{"g":9.5,"r":5,"v":14},{"g":10,"r":5,"v":14},
{"g":4,"r":4.5,"v":25},{"g":4.5,"r":4.5,"v":25},{"g":5,"r":4.5,"v":19},{"g":5.5,"r":4.5,"v":18},{"g":6,"r":4.5,"v":17},{"g":6.5,"r":4.5,"v":17},{"g":7,"r":4.5,"v":16},{"g":7.5,"r":4.5,"v":15},{"g":8,"r":4.5,"v":15},{"g":8.5,"r":4.5,"v":14},{"g":9,"r":4.5,"v":14},{"g":9.5,"r":4.5,"v":13},{"g":10,"r":4.5,"v":13},
{"g":4,"r":4,"v":18},{"g":4.5,"r":4,"v":18},{"g":5,"r":4,"v":17},{"g":5.5,"r":4,"v":16},{"g":6,"r":4,"v":15},{"g":6.5,"r":4,"v":15},{"g":7,"r":4,"v":14},{"g":7.5,"r":4,"v":14},{"g":8,"r":4,"v":14},{"g":8.5,"r":4,"v":13},{"g":9,"r":4,"v":13},{"g":9.5,"r":4,"v":13},{"g":10,"r":4,"v":13}
],
"vip_l23":[
{"g":4,"r":7,"v":0.2},{"g":4.5,"r":7,"v":0.2},{"g":5,"r":7,"v":0.2},{"g":5.5,"r":7,"v":0.2},{"g":6,"r":7,"v":0.2},{"g":6.5,"r":7,"v":0.2},{"g":7,"r":7,"v":0.2},{"g":7.5,"r":7,"v":0.2},{"g":8,"r":7,"v":0.2},{"g":8.5,"r":7,"v":0.2},{"g":9,"r":7,"v":0.3},{"g":9.5,"r":7,"v":0.3},{"g":10,"r":7,"v":0.3},
{"g":4,"r":6.5,"v":0.2},{"g":4.5,"r":6.5,"v":0.2},{"g":5,"r":6.5,"v":0.2},{"g":5.5,"r":6.5,"v":0.2},{"g":6,"r":6.5,"v":0.2},{"g":6.5,"r":6.5,"v":0.2},{"g":7,"r":6.5,"v":0.2},{"g":7.5,"r":6.5,"v":0.2},{"g":8,"r":6.5,"v":0.2},{"g":8.5,"r":6.5,"v":0.3},{"g":9,"r":6.5,"v":0.3},{"g":9.5,"r":6.5,"v":0.3},{"g":10,"r":6.5,"v":0.3},
{"g":4,"r":6,"v":0.2},{"g":4.5,"r":6,"v":0.2},{"g":5,"r":6,"v":0.2},{"g":5.5,"r":6,"v":0.2},{"g":6,"r":6,"v":0.2},{"g":6.5,"r":6,"v":0.2},{"g":7,"r":6,"v":0.2},{"g":7.5,"r":6,"v":0.2},{"g":8,"r":6,"v":0.3},{"g":8.5,"r":6,"v":0.3},{"g":9,"r":6,"v":0.3},{"g":9.5,"r":6,"v":0.4},{"g":10,"r":6,"v":0.4},
{"g":4,"r":5.5,"v":0.2},{"g":4.5,"r":5.5,"v":0.2},{"g":5,"r":5.5,"v":0.2},{"g":5.5,"r":5.5,"v":0.2},{"g":6,"r":5.5,"v":0.2},{"g":6.5,"r":5.5,"v":0.2},{"g":7,"r":5.5,"v":0.2},{"g":7.5,"r":5.5,"v":0.3},{"g":8,"r":5.5,"v":0.3},{"g":8.5,"r":5.5,"v":0.3},{"g":9,"r":5.5,"v":0.4},{"g":9.5,"r":5.5,"v":0.4},{"g":10,"r":5.5,"v":0.5},
{"g":4,"r":5,"v":0.2},{"g":4.5,"r":5,"v":0.2},{"g":5,"r":5,"v":0.2},{"g":5.5,"r":5,"v":0.2},{"g":6,"r":5,"v":0.2},{"g":6.5,"r":5,"v":0.3},{"g":7,"r":5,"v":0.3},{"g":7.5,"r":5,"v":0.3},{"g":8,"r":5,"v":0.3},{"g":8.5,"r":5,"v":0.4},{"g":9,"r":5,"v":0.4},{"g":9.5,"r":5,"v":0.5},{"g":10,"r":5,"v":0.5},
{"g":4,"r":4.5,"v":0.3},{"g":4.5,"r":4.5,"v":0.3},{"g":5,"r":4.5,"v":0.3},{"g":5.5,"r":4.5,"v":0.3},{"g":6,"r":4.5,"v":0.3},{"g":6.5,"r":4.5,"v":0.4},{"g":7,"r":4.5,"v":0.5},{"g":7.5,"r":4.5,"v":0.5},{"g":8,"r":4.5,"v":0.6},{"g":8.5,"r":4.5,"v":0.6},{"g":9,"r":4.5,"v":0.7},{"g":9.5,"r":4.5,"v":0.7},{"g":10,"r":4.5,"v":0.8},
{"g":4,"r":4,"v":0.4},{"g":4.5,"r":4,"v":0.4},{"g":5,"r":4,"v":0.5},{"g":5.5,"r":4,"v":0.5},{"g":6,"r":4,"v":0.6},{"g":6.5,"r":4,"v":0.7},{"g":7,"r":4,"v":1.0},{"g":7.5,"r":4,"v":1.0},{"g":8,"r":4,"v":1.0},{"g":8.5,"r":4,"v":1.1},{"g":9,"r":4,"v":1.6},{"g":9.5,"r":4,"v":1.7},{"g":10,"r":4,"v":1.8}
],
"dots_l23":[
{"g":8.5,"r":6.5,"s":"weak"},{"g":9,"r":6.5,"s":"weak"},
{"g":7.5,"r":6,"s":"weak"},{"g":8.5,"r":6,"s":"weak"},{"g":9,"r":6,"s":"weak"},{"g":10,"r":6,"s":"strong"},
{"g":6,"r":5.5,"s":"weak"},{"g":6.5,"r":5.5,"s":"weak"},{"g":7,"r":5.5,"s":"strong"},{"g":7.5,"r":5.5,"s":"weak"},{"g":8,"r":5.5,"s":"weak"},{"g":8.5,"r":5.5,"s":"strong"},{"g":9,"r":5.5,"s":"strong"},{"g":9.5,"r":5.5,"s":"strong"},{"g":10,"r":5.5,"s":"weak"},
{"g":5,"r":5,"s":"weak"},{"g":5.5,"r":5,"s":"weak"},{"g":6,"r":5,"s":"weak"},{"g":6.5,"r":5,"s":"weak"},{"g":7,"r":5,"s":"strong"},{"g":7.5,"r":5,"s":"strong"},{"g":8,"r":5,"s":"weak"},{"g":8.5,"r":5,"s":"strong"},{"g":9,"r":5,"s":"strong"},{"g":9.5,"r":5,"s":"strong"},{"g":10,"r":5,"s":"strong"},
{"g":4,"r":4.5,"s":"weak"},{"g":4.5,"r":4.5,"s":"weak"},{"g":5,"r":4.5,"s":"weak"},{"g":5.5,"r":4.5,"s":"weak"},{"g":6,"r":4.5,"s":"weak"},{"g":6.5,"r":4.5,"s":"weak"},{"g":7,"r":4.5,"s":"strong"},{"g":7.5,"r":4.5,"s":"strong"},{"g":8,"r":4.5,"s":"strong"},{"g":8.5,"r":4.5,"s":"strong"},{"g":9,"r":4.5,"s":"strong"},{"g":9.5,"r":4.5,"s":"strong"},{"g":10,"r":4.5,"s":"strong"},
{"g":5.5,"r":4,"s":"weak"},{"g":6,"r":4,"s":"weak"},{"g":6.5,"r":4,"s":"weak"},{"g":7,"r":4,"s":"weak"},{"g":7.5,"r":4,"s":"weak"},{"g":8,"r":4,"s":"ref"},{"g":8.5,"r":4,"s":"strong"},{"g":9,"r":4,"s":"strong"},{"g":9.5,"r":4,"s":"weak"},{"g":10,"r":4,"s":"strong"}
],
"dots_l4":[
{"g":6.5,"r":7,"s":"weak"},{"g":9,"r":7,"s":"weak"},{"g":10,"r":7,"s":"weak"},
{"g":9,"r":6.5,"s":"weak"},{"g":9.5,"r":6.5,"s":"weak"},{"g":10,"r":6.5,"s":"weak"},
{"g":8,"r":6,"s":"weak"},{"g":8.5,"r":6,"s":"weak"},{"g":9,"r":6,"s":"weak"},{"g":10,"r":6,"s":"strong"},
{"g":7,"r":5.5,"s":"strong"},{"g":7.5,"r":5.5,"s":"weak"},{"g":8,"r":5.5,"s":"weak"},{"g":8.5,"r":5.5,"s":"strong"},{"g":9,"r":5.5,"s":"strong"},{"g":9.5,"r":5.5,"s":"strong"},
{"g":7,"r":5,"s":"strong"},{"g":7.5,"r":5,"s":"strong"},{"g":8.5,"r":5,"s":"strong"},{"g":9,"r":5,"s":"strong"},{"g":9.5,"r":5,"s":"strong"},{"g":10,"r":5,"s":"strong"},
{"g":7,"r":4.5,"s":"strong"},{"g":7.5,"r":4.5,"s":"strong"},{"g":8,"r":4.5,"s":"strong"},{"g":8.5,"r":4.5,"s":"strong"},{"g":9,"r":4.5,"s":"strong"},{"g":9.5,"r":4.5,"s":"strong"},{"g":10,"r":4.5,"s":"strong"},
{"g":8,"r":4,"s":"ref"},{"g":8.5,"r":4,"s":"strong"},{"g":9,"r":4,"s":"strong"},{"g":10,"r":4,"s":"strong"}
],
"dots_l5":[
{"g":6,"r":7,"s":"weak"},{"g":9,"r":7,"s":"weak"},{"g":9.5,"r":7,"s":"weak"},{"g":10,"r":7,"s":"weak"},
{"g":6.5,"r":6.5,"s":"weak"},{"g":7,"r":6.5,"s":"weak"},{"g":8.5,"r":6.5,"s":"weak"},{"g":10,"r":6.5,"s":"weak"},
{"g":4.5,"r":6,"s":"weak"},{"g":5,"r":6,"s":"weak"},{"g":5.5,"r":6,"s":"weak"},{"g":6.5,"r":6,"s":"weak"},{"g":7,"r":6,"s":"weak"},{"g":8.5,"r":6,"s":"weak"},{"g":9.5,"r":6,"s":"weak"},{"g":10,"r":6,"s":"strong"},
{"g":4,"r":5.5,"s":"weak"},{"g":5,"r":5.5,"s":"weak"},{"g":5.5,"r":5.5,"s":"weak"},{"g":6,"r":5.5,"s":"weak"},{"g":6.5,"r":5.5,"s":"weak"},{"g":7,"r":5.5,"s":"strong"},{"g":8.5,"r":5.5,"s":"strong"},{"g":9,"r":5.5,"s":"strong"},{"g":9.5,"r":5.5,"s":"strong"},
{"g":4,"r":5,"s":"weak"},{"g":4.5,"r":5,"s":"weak"},{"g":5,"r":5,"s":"weak"},{"g":5.5,"r":5,"s":"weak"},{"g":6,"r":5,"s":"weak"},{"g":6.5,"r":5,"s":"weak"},{"g":7,"r":5,"s":"strong"},{"g":7.5,"r":5,"s":"strong"},{"g":8,"r":5,"s":"weak"},{"g":8.5,"r":5,"s":"strong"},{"g":9,"r":5,"s":"strong"},{"g":9.5,"r":5,"s":"strong"},{"g":10,"r":5,"s":"strong"},
{"g":4,"r":4.5,"s":"weak"},{"g":4.5,"r":4.5,"s":"weak"},{"g":5,"r":4.5,"s":"weak"},{"g":5.5,"r":4.5,"s":"weak"},{"g":6,"r":4.5,"s":"weak"},{"g":6.5,"r":4.5,"s":"weak"},{"g":7,"r":4.5,"s":"strong"},{"g":7.5,"r":4.5,"s":"strong"},{"g":8,"r":4.5,"s":"strong"},{"g":8.5,"r":4.5,"s":"strong"},{"g":9,"r":4.5,"s":"strong"},{"g":9.5,"r":4.5,"s":"strong"},{"g":10,"r":4.5,"s":"strong"},
{"g":5.5,"r":4,"s":"weak"},{"g":6,"r":4,"s":"weak"},{"g":6.5,"r":4,"s":"weak"},{"g":7,"r":4,"s":"weak"},{"g":7.5,"r":4,"s":"weak"},{"g":8,"r":4,"s":"ref"},{"g":8.5,"r":4,"s":"strong"},{"g":9,"r":4,"s":"strong"},{"g":9.5,"r":4,"s":"weak"},{"g":10,"r":4,"s":"strong"}
],
"dots_l6":[
{"g":10,"r":6.5,"s":"weak"},
{"g":9,"r":6,"s":"weak"},{"g":9.5,"r":6,"s":"weak"},{"g":10,"r":6,"s":"strong"},
{"g":6,"r":5.5,"s":"weak"},{"g":6.5,"r":5.5,"s":"weak"},{"g":7,"r":5.5,"s":"strong"},{"g":7.5,"r":5.5,"s":"weak"},{"g":8,"r":5.5,"s":"weak"},{"g":8.5,"r":5.5,"s":"strong"},{"g":9,"r":5.5,"s":"strong"},{"g":9.5,"r":5.5,"s":"strong"},{"g":10,"r":5.5,"s":"weak"},
{"g":5.5,"r":5,"s":"weak"},{"g":6,"r":5,"s":"weak"},{"g":6.5,"r":5,"s":"weak"},{"g":7,"r":5,"s":"strong"},{"g":7.5,"r":5,"s":"strong"},{"g":8,"r":5,"s":"weak"},{"g":8.5,"r":5,"s":"strong"},{"g":9,"r":5,"s":"strong"},{"g":9.5,"r":5,"s":"strong"},{"g":10,"r":5,"s":"strong"},
{"g":4.5,"r":4.5,"s":"weak"},{"g":5,"r":4.5,"s":"weak"},{"g":5.5,"r":4.5,"s":"weak"},{"g":6,"r":4.5,"s":"weak"},{"g":6.5,"r":4.5,"s":"weak"},{"g":7,"r":4.5,"s":"strong"},{"g":7.5,"r":4.5,"s":"strong"},{"g":8,"r":4.5,"s":"strong"},{"g":8.5,"r":4.5,"s":"strong"},{"g":9,"r":4.5,"s":"strong"},{"g":9.5,"r":4.5,"s":"strong"},{"g":10,"r":4.5,"s":"strong"},
{"g":4,"r":4,"s":"weak"},{"g":4.5,"r":4,"s":"weak"},{"g":5,"r":4,"s":"weak"},{"g":5.5,"r":4,"s":"weak"},{"g":6,"r":4,"s":"weak"},{"g":6.5,"r":4,"s":"weak"},{"g":7,"r":4,"s":"weak"},{"g":7.5,"r":4,"s":"weak"},{"g":8,"r":4,"s":"ref"},{"g":8.5,"r":4,"s":"strong"},{"g":9,"r":4,"s":"strong"},{"g":9.5,"r":4,"s":"weak"},{"g":10,"r":4,"s":"strong"}
]
},
"columns":4,
"spacing":{"row":38.5,"column":143},
"bounds":"flush",
"resolve":{"scale":{"color":"independent","stroke":"independent"}},
"concat":[
{"width":199,"height":199,
 "title":{"text":"Exc","anchor":"start","frame":"group","dx":79,"offset":-89,"baseline":"alphabetic","fontSize":40,"fontStyle":"italic"},
 "encoding":{
  "x":{"field":"g","type":"ordinal","scale":{"domain":[4,4.5,5,5.5,6,6.5,7,7.5,8,8.5,9,9.5,10],"paddingInner":0,"paddingOuter":0},"axis":{"values":[4,5,6,7,8,9,10],"labels":false,"title":"r","titleX":51,"titleY":-292,"titleAlign":"left","titleBaseline":"alphabetic","titleFontSize":56,"titleFontStyle":"italic"}},
  "y":{"field":"r","type":"ordinal","scale":{"domain":[7,6.5,6,5.5,5,4.5,4],"paddingInner":0,"paddingOuter":0},"axis":{"values":[4,5,6,7],"labels":true,"title":"L2/3","titleAngle":0,"titleX":-159,"titleY":115,"titleAlign":"center","titleBaseline":"alphabetic","titleFontSize":46}}},
 "layer":[
  {"data":{"name":"exc_l23"},"mark":{"type":"rect","strokeWidth":0.6},"encoding":{
   "color":{"field":"v","type":"quantitative","scale":{"domain":[0,1.25,2.5,3.75,5,6.25,7.5,8.75,10],"range":["#f7fbff","#deebf7","#c6dbef","#9ecae1","#6baed6","#4292c6","#2171b5","#08519c","#08306b"],"interpolate":"rgb","zero":false,"nice":false,"clamp":true},"legend":null},
   "stroke":{"field":"v","type":"quantitative","scale":{"domain":[0,1.25,2.5,3.75,5,6.25,7.5,8.75,10.001],"range":["#f7fbff","#deebf7","#c6dbef","#9ecae1","#6baed6","#4292c6","#2171b5","#08519c","#08306b"],"interpolate":"rgb","zero":false,"nice":false,"clamp":true},"legend":null}}},
  {"data":{"name":"dots_l23"},"mark":{"type":"circle","opacity":1},"encoding":{"fill":{"field":"s","type":"nominal","scale":{"domain":["weak","strong","ref"],"range":["#858585","#000000","#ff0000"]},"legend":null},"size":{"field":"s","type":"ordinal","scale":{"domain":["weak","strong","ref"],"range":[38,38,70]},"legend":null}}}
 ]},
{"width":199,"height":199,
 "title":{"text":"PV","anchor":"start","frame":"group","dx":84,"offset":-89,"baseline":"alphabetic","fontSize":40,"fontStyle":"italic"},
 "data":{"name":"pv_l23"},"mark":{"type":"rect","strokeWidth":0.6},
 "encoding":{
  "x":{"field":"g","type":"ordinal","scale":{"domain":[4,4.5,5,5.5,6,6.5,7,7.5,8,8.5,9,9.5,10],"paddingInner":0,"paddingOuter":0},"axis":{"values":[4,5,6,7,8,9,10],"labels":false,"title":"r","titleX":59,"titleY":-292,"titleAlign":"left","titleBaseline":"alphabetic","titleFontSize":56,"titleFontStyle":"italic"}},
  "y":{"field":"r","type":"ordinal","scale":{"domain":[7,6.5,6,5.5,5,4.5,4],"paddingInner":0,"paddingOuter":0},"axis":{"values":[4,5,6,7],"labels":false,"title":null}},
  "color":{"field":"v","type":"quantitative","scale":{"domain":[0,12.5,25,37.5,50,62.5,75,87.5,100],"range":["#f7fbff","#deebf7","#c6dbef","#9ecae1","#6baed6","#4292c6","#2171b5","#08519c","#08306b"],"interpolate":"rgb","zero":false,"nice":false,"clamp":true},"legend":null},
  "stroke":{"field":"v","type":"quantitative","scale":{"domain":[0,12.5,25,37.5,50,62.5,75,87.5,100.01],"range":["#f7fbff","#deebf7","#c6dbef","#9ecae1","#6baed6","#4292c6","#2171b5","#08519c","#08306b"],"interpolate":"rgb","zero":false,"nice":false,"clamp":true},"legend":null}}},
{"width":199,"height":199,
 "title":{"text":"SOM","anchor":"start","frame":"group","dx":67,"offset":-89,"baseline":"alphabetic","fontSize":40,"fontStyle":"italic"},
 "data":{"name":"som_l23"},"mark":{"type":"rect","strokeWidth":0.6},
 "encoding":{
  "x":{"field":"g","type":"ordinal","scale":{"domain":[4,4.5,5,5.5,6,6.5,7,7.5,8,8.5,9,9.5,10],"paddingInner":0,"paddingOuter":0},"axis":{"values":[4,5,6,7,8,9,10],"labels":false,"title":"r","titleX":42,"titleY":-292,"titleAlign":"left","titleBaseline":"alphabetic","titleFontSize":56,"titleFontStyle":"italic"}},
  "y":{"field":"r","type":"ordinal","scale":{"domain":[7,6.5,6,5.5,5,4.5,4],"paddingInner":0,"paddingOuter":0},"axis":{"values":[4,5,6,7],"labels":false,"title":null}},
  "color":{"field":"v","type":"quantitative","scale":{"domain":[0,12.5,25,37.5,50,62.5,75,87.5,100],"range":["#f7fbff","#deebf7","#c6dbef","#9ecae1","#6baed6","#4292c6","#2171b5","#08519c","#08306b"],"interpolate":"rgb","zero":false,"nice":false,"clamp":true},"legend":null},
  "stroke":{"field":"v","type":"quantitative","scale":{"domain":[0,12.5,25,37.5,50,62.5,75,87.5,100.01],"range":["#f7fbff","#deebf7","#c6dbef","#9ecae1","#6baed6","#4292c6","#2171b5","#08519c","#08306b"],"interpolate":"rgb","zero":false,"nice":false,"clamp":true},"legend":null}}},
{"width":199,"height":199,
 "title":{"text":"VIP","anchor":"start","frame":"group","dx":80,"offset":-89,"baseline":"alphabetic","fontSize":40,"fontStyle":"italic"},
 "data":{"name":"vip_l23"},
 "encoding":{
  "x":{"field":"g","type":"ordinal","scale":{"domain":[4,4.5,5,5.5,6,6.5,7,7.5,8,8.5,9,9.5,10],"paddingInner":0,"paddingOuter":0},"axis":{"values":[4,5,6,7,8,9,10],"labels":true,"title":"r","titleX":55,"titleY":-292,"titleAlign":"left","titleBaseline":"alphabetic","titleFontSize":56,"titleFontStyle":"italic"}},
  "y":{"field":"r","type":"ordinal","scale":{"domain":[7,6.5,6,5.5,5,4.5,4],"paddingInner":0,"paddingOuter":0},"axis":{"values":[4,5,6,7],"labels":false,"title":null}}},
 "layer":[
  {"mark":"rect","encoding":{"color":{"field":"v","type":"quantitative","scale":{"domain":[0,1.25,2.5,3.75,5,6.25,7.5,8.75,10],"range":["#f7fbff","#deebf7","#c6dbef","#9ecae1","#6baed6","#4292c6","#2171b5","#08519c","#08306b"],"interpolate":"rgb","zero":false,"nice":false,"clamp":true},
   "legend":{"type":"gradient","orient":"none","legendX":-16,"legendY":1107,"direction":"horizontal","values":[0.0001,9.9999],"labelExpr":"datum.value < 1 ? '0' : '10'","title":null,"gradientLength":229,"gradientThickness":23,"gradientStrokeColor":"black","gradientStrokeWidth":1,"labelFontSize":38,"labelColor":"black","labelOffset":11,"labelOverlap":false,"padding":0}}}},
  {"mark":{"type":"rect","filled":false,"strokeWidth":0.6},"encoding":{"stroke":{"field":"v","type":"quantitative","scale":{"domain":[0,1.25,2.5,3.75,5,6.25,7.5,8.75,10.001],"range":["#f7fbff","#deebf7","#c6dbef","#9ecae1","#6baed6","#4292c6","#2171b5","#08519c","#08306b"],"interpolate":"rgb","zero":false,"nice":false,"clamp":true},"legend":null}}}
 ]},
{"width":199,"height":199,
 "encoding":{
  "x":{"field":"g","type":"ordinal","scale":{"domain":[4,4.5,5,5.5,6,6.5,7,7.5,8,8.5,9,9.5,10],"paddingInner":0,"paddingOuter":0},"axis":{"values":[4,5,6,7,8,9,10],"labels":false,"title":"r","titleX":-74,"titleY":41.5,"titleAngle":270,"titleAlign":"center","titleBaseline":"alphabetic","titleFontSize":56,"titleFontStyle":"italic"}},
  "y":{"field":"r","type":"ordinal","scale":{"domain":[7,6.5,6,5.5,5,4.5,4],"paddingInner":0,"paddingOuter":0},"axis":{"values":[4,5,6,7],"labels":true,"title":"L4","titleAngle":0,"titleX":-159,"titleY":113,"titleAlign":"center","titleBaseline":"alphabetic","titleFontSize":46}}},
 "layer":[
  {"data":{"name":"exc_l4"},"mark":{"type":"rect","strokeWidth":0.6},"encoding":{
   "color":{"field":"v","type":"quantitative","scale":{"domain":[0,1.25,2.5,3.75,5,6.25,7.5,8.75,10],"range":["#f7fbff","#deebf7","#c6dbef","#9ecae1","#6baed6","#4292c6","#2171b5","#08519c","#08306b"],"interpolate":"rgb","zero":false,"nice":false,"clamp":true},"legend":null},
   "stroke":{"field":"v","type":"quantitative","scale":{"domain":[0,1.25,2.5,3.75,5,6.25,7.5,8.75,10.001],"range":["#f7fbff","#deebf7","#c6dbef","#9ecae1","#6baed6","#4292c6","#2171b5","#08519c","#08306b"],"interpolate":"rgb","zero":false,"nice":false,"clamp":true},"legend":null}}},
  {"data":{"name":"dots_l4"},"mark":{"type":"circle","opacity":1},"encoding":{"fill":{"field":"s","type":"nominal","scale":{"domain":["weak","strong","ref"],"range":["#858585","#000000","#ff0000"]},"legend":null},"size":{"field":"s","type":"ordinal","scale":{"domain":["weak","strong","ref"],"range":[38,38,70]},"legend":null}}}
 ]},
{"width":199,"height":199,
 "data":{"name":"pv_l4"},"mark":{"type":"rect","strokeWidth":0.6},
 "encoding":{
  "x":{"field":"g","type":"ordinal","scale":{"domain":[4,4.5,5,5.5,6,6.5,7,7.5,8,8.5,9,9.5,10],"paddingInner":0,"paddingOuter":0},"axis":{"values":[4,5,6,7,8,9,10],"labels":false,"title":null}},
  "y":{"field":"r","type":"ordinal","scale":{"domain":[7,6.5,6,5.5,5,4.5,4],"paddingInner":0,"paddingOuter":0},"axis":{"values":[4,5,6,7],"labels":false,"title":null}},
  "color":{"field":"v","type":"quantitative","scale":{"domain":[0,12.5,25,37.5,50,62.5,75,87.5,100],"range":["#f7fbff","#deebf7","#c6dbef","#9ecae1","#6baed6","#4292c6","#2171b5","#08519c","#08306b"],"interpolate":"rgb","zero":false,"nice":false,"clamp":true},"legend":null},
  "stroke":{"field":"v","type":"quantitative","scale":{"domain":[0,12.5,25,37.5,50,62.5,75,87.5,100.01],"range":["#f7fbff","#deebf7","#c6dbef","#9ecae1","#6baed6","#4292c6","#2171b5","#08519c","#08306b"],"interpolate":"rgb","zero":false,"nice":false,"clamp":true},"legend":null}}},
{"width":199,"height":199,
 "data":{"name":"som_l4"},"mark":{"type":"rect","strokeWidth":0.6},
 "encoding":{
  "x":{"field":"g","type":"ordinal","scale":{"domain":[4,4.5,5,5.5,6,6.5,7,7.5,8,8.5,9,9.5,10],"paddingInner":0,"paddingOuter":0},"axis":{"values":[4,5,6,7,8,9,10],"labels":false,"title":null}},
  "y":{"field":"r","type":"ordinal","scale":{"domain":[7,6.5,6,5.5,5,4.5,4],"paddingInner":0,"paddingOuter":0},"axis":{"values":[4,5,6,7],"labels":false,"title":null}},
  "color":{"field":"v","type":"quantitative","scale":{"domain":[0,12.5,25,37.5,50,62.5,75,87.5,100],"range":["#f7fbff","#deebf7","#c6dbef","#9ecae1","#6baed6","#4292c6","#2171b5","#08519c","#08306b"],"interpolate":"rgb","zero":false,"nice":false,"clamp":true},"legend":null},
  "stroke":{"field":"v","type":"quantitative","scale":{"domain":[0,12.5,25,37.5,50,62.5,75,87.5,100.01],"range":["#f7fbff","#deebf7","#c6dbef","#9ecae1","#6baed6","#4292c6","#2171b5","#08519c","#08306b"],"interpolate":"rgb","zero":false,"nice":false,"clamp":true},"legend":null}}},
{"width":199,"height":199,"view":{"stroke":null},"data":{"values":[]},"mark":"point","encoding":{}},
{"width":199,"height":199,
 "encoding":{
  "x":{"field":"g","type":"ordinal","scale":{"domain":[4,4.5,5,5.5,6,6.5,7,7.5,8,8.5,9,9.5,10],"paddingInner":0,"paddingOuter":0},"axis":{"values":[4,5,6,7,8,9,10],"labels":false,"title":"bg","titleX":-68,"titleY":-236,"titleAngle":270,"titleAlign":"center","titleBaseline":"alphabetic","titleFontSize":40,"titleFontStyle":"italic"}},
  "y":{"field":"r","type":"ordinal","scale":{"domain":[7,6.5,6,5.5,5,4.5,4],"paddingInner":0,"paddingOuter":0},"axis":{"values":[4,5,6,7],"labels":true,"title":"L5","titleAngle":0,"titleX":-159,"titleY":115,"titleAlign":"center","titleBaseline":"alphabetic","titleFontSize":46}}},
 "layer":[
  {"data":{"name":"exc_l5"},"mark":{"type":"rect","strokeWidth":0.6},"encoding":{
   "color":{"field":"v","type":"quantitative","scale":{"domain":[0,1.25,2.5,3.75,5,6.25,7.5,8.75,10],"range":["#f7fbff","#deebf7","#c6dbef","#9ecae1","#6baed6","#4292c6","#2171b5","#08519c","#08306b"],"interpolate":"rgb","zero":false,"nice":false,"clamp":true},"legend":null},
   "stroke":{"field":"v","type":"quantitative","scale":{"domain":[0,1.25,2.5,3.75,5,6.25,7.5,8.75,10.001],"range":["#f7fbff","#deebf7","#c6dbef","#9ecae1","#6baed6","#4292c6","#2171b5","#08519c","#08306b"],"interpolate":"rgb","zero":false,"nice":false,"clamp":true},"legend":null}}},
  {"data":{"name":"dots_l5"},"mark":{"type":"circle","opacity":1},"encoding":{"fill":{"field":"s","type":"nominal","scale":{"domain":["weak","strong","ref"],"range":["#858585","#000000","#ff0000"]},"legend":null},"size":{"field":"s","type":"ordinal","scale":{"domain":["weak","strong","ref"],"range":[38,38,70]},"legend":null}}}
 ]},
{"width":199,"height":199,
 "data":{"name":"pv_l5"},"mark":{"type":"rect","strokeWidth":0.6},
 "encoding":{
  "x":{"field":"g","type":"ordinal","scale":{"domain":[4,4.5,5,5.5,6,6.5,7,7.5,8,8.5,9,9.5,10],"paddingInner":0,"paddingOuter":0},"axis":{"values":[4,5,6,7,8,9,10],"labels":false,"title":null}},
  "y":{"field":"r","type":"ordinal","scale":{"domain":[7,6.5,6,5.5,5,4.5,4],"paddingInner":0,"paddingOuter":0},"axis":{"values":[4,5,6,7],"labels":false,"title":null}},
  "color":{"field":"v","type":"quantitative","scale":{"domain":[0,12.5,25,37.5,50,62.5,75,87.5,100],"range":["#f7fbff","#deebf7","#c6dbef","#9ecae1","#6baed6","#4292c6","#2171b5","#08519c","#08306b"],"interpolate":"rgb","zero":false,"nice":false,"clamp":true},"legend":null},
  "stroke":{"field":"v","type":"quantitative","scale":{"domain":[0,12.5,25,37.5,50,62.5,75,87.5,100.01],"range":["#f7fbff","#deebf7","#c6dbef","#9ecae1","#6baed6","#4292c6","#2171b5","#08519c","#08306b"],"interpolate":"rgb","zero":false,"nice":false,"clamp":true},"legend":null}}},
{"width":199,"height":199,
 "data":{"name":"som_l5"},"mark":{"type":"rect","strokeWidth":0.6},
 "encoding":{
  "x":{"field":"g","type":"ordinal","scale":{"domain":[4,4.5,5,5.5,6,6.5,7,7.5,8,8.5,9,9.5,10],"paddingInner":0,"paddingOuter":0},"axis":{"values":[4,5,6,7,8,9,10],"labels":false,"title":null}},
  "y":{"field":"r","type":"ordinal","scale":{"domain":[7,6.5,6,5.5,5,4.5,4],"paddingInner":0,"paddingOuter":0},"axis":{"values":[4,5,6,7],"labels":false,"title":null}},
  "color":{"field":"v","type":"quantitative","scale":{"domain":[0,12.5,25,37.5,50,62.5,75,87.5,100],"range":["#f7fbff","#deebf7","#c6dbef","#9ecae1","#6baed6","#4292c6","#2171b5","#08519c","#08306b"],"interpolate":"rgb","zero":false,"nice":false,"clamp":true},"legend":null},
  "stroke":{"field":"v","type":"quantitative","scale":{"domain":[0,12.5,25,37.5,50,62.5,75,87.5,100.01],"range":["#f7fbff","#deebf7","#c6dbef","#9ecae1","#6baed6","#4292c6","#2171b5","#08519c","#08306b"],"interpolate":"rgb","zero":false,"nice":false,"clamp":true},"legend":null}}},
{"width":199,"height":199,"view":{"stroke":null},"data":{"values":[]},"mark":"point","encoding":{}},
{"width":199,"height":199,
 "data":{"name":"exc_l6"},
 "encoding":{
  "x":{"field":"g","type":"ordinal","scale":{"domain":[4,4.5,5,5.5,6,6.5,7,7.5,8,8.5,9,9.5,10],"paddingInner":0,"paddingOuter":0},"axis":{"values":[4,5,6,7,8,9,10],"labels":true,"title":null}},
  "y":{"field":"r","type":"ordinal","scale":{"domain":[7,6.5,6,5.5,5,4.5,4],"paddingInner":0,"paddingOuter":0},"axis":{"values":[4,5,6,7],"labels":true,"title":"L6","titleAngle":0,"titleX":-159,"titleY":115,"titleAlign":"center","titleBaseline":"alphabetic","titleFontSize":46}}},
 "layer":[
  {"mark":"rect","encoding":{"color":{"field":"v","type":"quantitative","scale":{"domain":[0,1.25,2.5,3.75,5,6.25,7.5,8.75,10],"range":["#f7fbff","#deebf7","#c6dbef","#9ecae1","#6baed6","#4292c6","#2171b5","#08519c","#08306b"],"interpolate":"rgb","zero":false,"nice":false,"clamp":true},
    "legend":{"type":"gradient","orient":"none","legendX":-14,"legendY":394.5,"direction":"horizontal","values":[0.0001,9.9999],"labelExpr":"datum.value < 1 ? '0' : '10'","title":null,"gradientLength":227,"gradientThickness":23,"gradientStrokeColor":"black","gradientStrokeWidth":1,"labelFontSize":38,"labelColor":"black","labelOffset":11,"labelOverlap":false,"padding":0}}}},
  {"mark":{"type":"rect","filled":false,"strokeWidth":0.6},"encoding":{"stroke":{"field":"v","type":"quantitative","scale":{"domain":[0,1.25,2.5,3.75,5,6.25,7.5,8.75,10.001],"range":["#f7fbff","#deebf7","#c6dbef","#9ecae1","#6baed6","#4292c6","#2171b5","#08519c","#08306b"],"interpolate":"rgb","zero":false,"nice":false,"clamp":true},"legend":null}}},
  {"data":{"name":"dots_l6"},"mark":{"type":"circle","opacity":1},"encoding":{"fill":{"field":"s","type":"nominal","scale":{"domain":["weak","strong","ref"],"range":["#858585","#000000","#ff0000"]},"legend":null},"size":{"field":"s","type":"ordinal","scale":{"domain":["weak","strong","ref"],"range":[38,38,70]},"legend":null}}}
 ]},
{"width":199,"height":199,
 "data":{"name":"pv_l6"},
 "encoding":{
  "x":{"field":"g","type":"ordinal","scale":{"domain":[4,4.5,5,5.5,6,6.5,7,7.5,8,8.5,9,9.5,10],"paddingInner":0,"paddingOuter":0},"axis":{"values":[4,5,6,7,8,9,10],"labels":true,"title":"g","titleX":268,"titleY":96.5,"titleAlign":"center","titleBaseline":"alphabetic","titleFontSize":52}},
  "y":{"field":"r","type":"ordinal","scale":{"domain":[7,6.5,6,5.5,5,4.5,4],"paddingInner":0,"paddingOuter":0},"axis":{"values":[4,5,6,7],"labels":false,"title":null}}},
 "layer":[
  {"mark":"rect","encoding":{"color":{"field":"v","type":"quantitative","scale":{"domain":[0,12.5,25,37.5,50,62.5,75,87.5,100],"range":["#f7fbff","#deebf7","#c6dbef","#9ecae1","#6baed6","#4292c6","#2171b5","#08519c","#08306b"],"interpolate":"rgb","zero":false,"nice":false,"clamp":true},
   "legend":{"type":"gradient","orient":"none","legendX":-15,"legendY":394.5,"direction":"horizontal","values":[0.001,99.999],"labelExpr":"datum.value < 1 ? '0' : '100'","title":null,"gradientLength":228,"gradientThickness":23,"gradientStrokeColor":"black","gradientStrokeWidth":1,"labelFontSize":38,"labelColor":"black","labelOffset":11,"labelOverlap":false,"padding":0}}}},
  {"mark":{"type":"rect","filled":false,"strokeWidth":0.6},"encoding":{"stroke":{"field":"v","type":"quantitative","scale":{"domain":[0,12.5,25,37.5,50,62.5,75,87.5,100.01],"range":["#f7fbff","#deebf7","#c6dbef","#9ecae1","#6baed6","#4292c6","#2171b5","#08519c","#08306b"],"interpolate":"rgb","zero":false,"nice":false,"clamp":true},"legend":null}}}
 ]},
{"width":199,"height":199,
 "data":{"name":"som_l6"},
 "encoding":{
  "x":{"field":"g","type":"ordinal","scale":{"domain":[4,4.5,5,5.5,6,6.5,7,7.5,8,8.5,9,9.5,10],"paddingInner":0,"paddingOuter":0},"axis":{"values":[4,5,6,7,8,9,10],"labels":true,"title":null}},
  "y":{"field":"r","type":"ordinal","scale":{"domain":[7,6.5,6,5.5,5,4.5,4],"paddingInner":0,"paddingOuter":0},"axis":{"values":[4,5,6,7],"labels":false,"title":null}}},
 "layer":[
  {"mark":"rect","encoding":{"color":{"field":"v","type":"quantitative","scale":{"domain":[0,12.5,25,37.5,50,62.5,75,87.5,100],"range":["#f7fbff","#deebf7","#c6dbef","#9ecae1","#6baed6","#4292c6","#2171b5","#08519c","#08306b"],"interpolate":"rgb","zero":false,"nice":false,"clamp":true},
   "legend":{"type":"gradient","orient":"none","legendX":-15,"legendY":394.5,"direction":"horizontal","values":[0.001,99.999],"labelExpr":"datum.value < 1 ? '0' : '100'","title":null,"gradientLength":229,"gradientThickness":23,"gradientStrokeColor":"black","gradientStrokeWidth":1,"labelFontSize":38,"labelColor":"black","labelOffset":11,"labelOverlap":false,"padding":0}}}},
  {"mark":{"type":"rect","filled":false,"strokeWidth":0.6},"encoding":{"stroke":{"field":"v","type":"quantitative","scale":{"domain":[0,12.5,25,37.5,50,62.5,75,87.5,100.01],"range":["#f7fbff","#deebf7","#c6dbef","#9ecae1","#6baed6","#4292c6","#2171b5","#08519c","#08306b"],"interpolate":"rgb","zero":false,"nice":false,"clamp":true},"legend":null}}}
 ]},
{"width":199,"height":199,"view":{"stroke":null},"data":{"values":[]},"mark":"point","encoding":{}}
],
"config":{
 "font":"DejaVu Sans",
 "view":{"stroke":"black","strokeWidth":1.2},
 "axis":{"domain":false,"grid":false,"ticks":true,"tickColor":"black","tickSize":6,"tickWidth":1.2,"bandPosition":0.5,"labelFont":"DejaVu Sans","labelFontSize":34,"labelColor":"black","labelAngle":0,"labelOverlap":false,"labelBound":false,"labelFlush":false,"titleFont":"DejaVu Sans","titleColor":"black","titleFontWeight":"normal"},
 "axisX":{"labelPadding":3},
 "axisY":{"labelPadding":7},
 "title":{"font":"DejaVu Sans","color":"black","fontWeight":"normal"},
 "legend":{"labelFont":"DejaVu Sans"}
}
}
